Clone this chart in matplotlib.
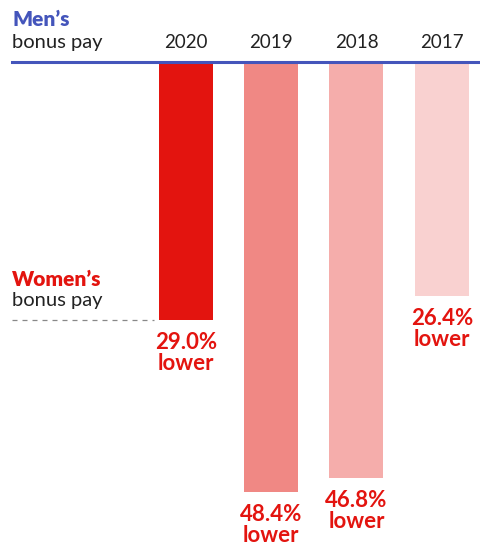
import matplotlib
matplotlib.use('Agg')
import matplotlib.pyplot as plt
import matplotlib.transforms as mtransforms

plt.rcParams['font.family'] = ['Lato', 'DejaVu Sans']

years = ['2020', '2019', '2018', '2017']
gap_pct = [29.0, 48.4, 46.8, 26.4]
bar_colors = ['#e3140f', '#f08884', '#f5adab', '#f9d1d0']
red = '#e3140f'
blue = '#4455bb'
dark = '#222222'

W, H = 481, 550
fig = plt.figure(figsize=(W / 100, H / 100), dpi=100)
# axes: top edge on the men's line (y=62px), ~8.88 px per percentage point
top_px = 62
ax = fig.add_axes([0, 0, 1, (H - top_px) / H])
ax.set_ylim((H - top_px) / 8.88, 0)
ax.set_xlim(-2.18, 3.46)
ax.axis('off')

x = list(range(len(years)))
ax.bar(x, gap_pct, width=0.633, bottom=0, color=bar_colors, align='center')

# men's reference line
ax.axhline(0, xmin=12 / W, xmax=1, color=blue, lw=2.2, clip_on=False, zorder=5)

# women's dashed guide at the 2020 level
ax.plot([-2.04, -0.37], [gap_pct[0], gap_pct[0]], color='#888888', lw=0.9,
        dashes=(4, 4), clip_on=False)

# year labels above the line
trans = mtransforms.blended_transform_factory(ax.transData, fig.transFigure)
for xi, yr in zip(x, years):
    ax.text(xi, 1 - 48 / H, yr, transform=trans, ha='center', va='baseline',
            fontsize=13.5, color=dark)

# left-hand labels
fig.text(12 / W, 1 - 26 / H, 'Men\u2019s', ha='left', va='baseline',
         fontsize=15, fontweight='heavy', color=blue)
fig.text(12 / W, 1 - 48 / H, 'bonus pay', ha='left', va='baseline',
         fontsize=14.5, color=dark)
ax.annotate('Women\u2019s', (-2.04, gap_pct[0]), xytext=(0, 34),
            textcoords='offset pixels', ha='left', va='baseline',
            fontsize=15, fontweight='heavy', color=red, annotation_clip=False)
ax.annotate('bonus pay', (-2.04, gap_pct[0]), xytext=(0, 14),
            textcoords='offset pixels', ha='left', va='baseline',
            fontsize=14.5, color=dark, annotation_clip=False)

# value labels under each bar
for xi, v in zip(x, gap_pct):
    ax.annotate(f'{v:.1f}%', (xi, v), xytext=(0, -29),
                textcoords='offset pixels', ha='center', va='baseline',
                fontsize=16, fontweight='bold', color=red, annotation_clip=False)
    ax.annotate('lower', (xi, v), xytext=(0, -50),
                textcoords='offset pixels', ha='center', va='baseline',
                fontsize=16, fontweight='bold', color=red, annotation_clip=False)

fig.savefig('out.png', dpi=100)
